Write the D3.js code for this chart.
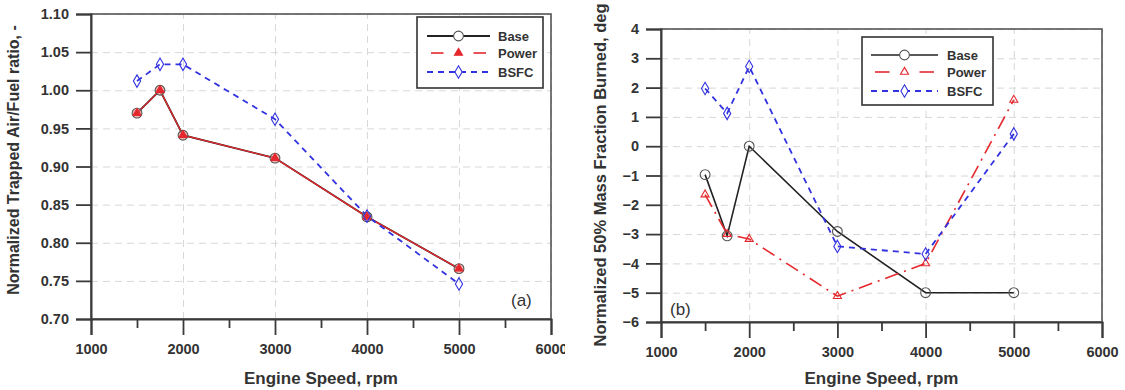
<!DOCTYPE html>
<html>
<head>
<meta charset="utf-8">
<script src="https://cdn.jsdelivr.net/npm/d3@7"></script>
<style>
  body { margin: 0; background: #fff; }
  svg { display: block; }
  text { font-family: "Liberation Sans", Arial, sans-serif; }
</style>
</head>
<body>
<svg width="1125" height="390"></svg>
<script>
// engine speed points, rpm
var speeds = [1500, 1750, 2000, 3000, 4000, 5000];

// (a) normalized trapped air/fuel ratio
var afrBase  = [0.970, 1.000, 0.941, 0.911, 0.834, 0.766];
var afrPower = [0.970, 1.000, 0.941, 0.911, 0.834, 0.766];
var afrBsfc  = [1.012, 1.034, 1.034, 0.962, 0.835, 0.746];

// (b) normalized 50% mass fraction burned, deg
var mfbBase  = [-0.97, -3.06, 0.00, -2.91, -5.00, -5.00];
var mfbPower = [-1.65, -3.00, -3.17, -5.12, -4.00, 1.58];
var mfbBsfc  = [1.97, 1.12, 2.72, -3.42, -3.68, 0.42];

var xTicks = [1000, 2000, 3000, 4000, 5000, 6000];
var xMinor = [1500, 2500, 3500, 4500, 5500];
var afrTicks = [0.70, 0.75, 0.80, 0.85, 0.90, 0.95, 1.00, 1.05, 1.10];
var mfbTicks = [-6, -5, -4, -3, -2, -1, 0, 1, 2, 3, 4];
var seriesNames = ["Base", "Power", "BSFC"];

var svg = d3.select("svg");
var defs = svg.append("defs");
defs.append("clipPath").attr("id", "clipA").append("rect")
    .attr("x", 0).attr("y", 0).attr("width", 565).attr("height", 390);
defs.append("clipPath").attr("id", "clipB").append("rect")
    .attr("x", 565).attr("y", 0).attr("width", 555).attr("height", 390);

var axisCol = "#3a3a3a", red = "#e5282e", blue = "#3232e0", black = "#222";

function panel(opt) {
    var g = svg.append("g").attr("clip-path", "url(#" + opt.clip + ")");
    var x = d3.scaleLinear().domain([1000, 6000]).range([opt.left, opt.right]);
    var y = d3.scaleLinear().domain(opt.yDomain).range([opt.bottom, opt.top]);

    // dashed grid
    g.append("g")
        .attr("transform", "translate(0," + opt.bottom + ")")
        .call(d3.axisBottom(x).tickValues(xTicks).tickSize(-(opt.bottom - opt.top)).tickFormat(""))
        .call(function (s) {
            s.select(".domain").remove();
            s.selectAll("line").attr("stroke", "#d8d8d8").attr("stroke-dasharray", "7,5");
        });
    g.append("g")
        .attr("transform", "translate(" + opt.left + ",0)")
        .call(d3.axisLeft(y).tickValues(opt.yTicks).tickSize(-(opt.right - opt.left)).tickFormat(""))
        .call(function (s) {
            s.select(".domain").remove();
            s.selectAll("line").attr("stroke", "#d8d8d8").attr("stroke-dasharray", "7,5");
        });

    // frame
    g.append("rect")
        .attr("x", opt.left).attr("y", opt.top)
        .attr("width", opt.right - opt.left).attr("height", opt.bottom - opt.top)
        .attr("fill", "none").attr("stroke", "#555").attr("stroke-width", 1.6);

    // axes
    g.append("g")
        .attr("transform", "translate(0," + opt.bottom + ")")
        .call(d3.axisBottom(x).tickValues(xTicks).tickSize(16).tickPadding(9).tickFormat(d3.format("d")));
    g.append("g")
        .attr("transform", "translate(0," + opt.bottom + ")")
        .call(d3.axisBottom(x).tickValues(xMinor).tickSize(9).tickFormat(""))
        .call(function (s) { s.select(".domain").remove(); });
    g.append("g")
        .attr("transform", "translate(" + opt.left + ",0)")
        .call(d3.axisLeft(y).tickValues(opt.yTicks).tickSize(15).tickPadding(7).tickFormat(opt.yFormat));
    g.selectAll(".domain").attr("stroke", axisCol).attr("stroke-width", 2);
    g.selectAll(".tick line").filter(function () { return !d3.select(this).attr("stroke-dasharray"); })
        .attr("stroke", axisCol).attr("stroke-width", 1.8);
    g.selectAll(".tick text")
        .attr("fill", "#333").style("font-size", "14.5px").style("font-weight", "bold");

    // axis titles
    g.append("text")
        .attr("x", (opt.left + opt.right) / 2).attr("y", 384)
        .attr("text-anchor", "middle")
        .style("font-size", "17px").style("font-weight", "bold").attr("fill", "#333")
        .text("Engine Speed, rpm");
    g.append("text")
        .attr("transform", "translate(" + opt.titleX + "," + opt.titleY + ") rotate(-90)")
        .attr("text-anchor", "middle")
        .style("font-size", opt.titleSize).style("font-weight", "bold").attr("fill", "#333")
        .text(opt.yTitle);

    // panel tag
    g.append("text")
        .attr("x", opt.tagX).attr("y", opt.tagY)
        .style("font-size", "17px").attr("fill", "#333")
        .text(opt.tag);

    var line = d3.line().x(function (d) { return x(d[0]); }).y(function (d) { return y(d[1]); });
    var styles = opt.styles;

    opt.series.forEach(function (vals, i) {
        var st = styles[i];
        var pts = speeds.map(function (s, k) { return [s, vals[k]]; });
        g.append("path").datum(pts)
            .attr("d", line)
            .attr("fill", "none")
            .attr("stroke", st.color)
            .attr("stroke-width", st.width)
            .attr("stroke-dasharray", st.dash);
    });
    opt.series.forEach(function (vals, i) {
        var st = styles[i];
        g.selectAll(null).data(speeds.map(function (s, k) { return [s, vals[k]]; }))
            .enter().append("path")
            .attr("transform", function (d) { return "translate(" + x(d[0]) + "," + y(d[1]) + ")"; })
            .attr("d", d3.symbol().type(st.symbol).size(st.size))
            .attr("fill", st.fill).attr("stroke", st.mark).attr("stroke-width", 1.1);
    });

    // legend
    var lg = g.append("g");
    lg.append("rect")
        .attr("x", opt.legend.x).attr("y", opt.legend.y)
        .attr("width", opt.legend.w).attr("height", opt.legend.h)
        .attr("fill", "#fff").attr("stroke", "#333").attr("stroke-width", 1.6);
    seriesNames.forEach(function (name, i) {
        var st = styles[i];
        var ly = opt.legend.y + opt.legend.rowY[i];
        var x0 = opt.legend.x + opt.legend.lx0, x1 = opt.legend.x + opt.legend.lx1, xm = (x0 + x1) / 2;
        if (i === 1) {
            [[x0, xm - 11], [xm + 11, x1]].forEach(function (seg) {
                lg.append("line").attr("x1", seg[0] + 4).attr("x2", seg[1] - 4).attr("y1", ly).attr("y2", ly)
                    .attr("stroke", st.color).attr("stroke-width", 1.6);
            });
        } else {
            lg.append("line").attr("x1", x0).attr("x2", x1).attr("y1", ly).attr("y2", ly)
                .attr("stroke", st.color).attr("stroke-width", st.width)
                .attr("stroke-dasharray", st.dash);
        }
        lg.append("path")
            .attr("transform", "translate(" + xm + "," + ly + ")")
            .attr("d", d3.symbol().type(st.symbol).size(st.size))
            .attr("fill", i === 1 ? st.legendFill : "#fff").attr("stroke", st.mark).attr("stroke-width", 1.1);
        lg.append("text")
            .attr("x", opt.legend.x + opt.legend.tx).attr("y", ly + 5)
            .style("font-size", "13px").style("font-weight", "bold").attr("fill", "#333")
            .text(name);
    });
}

panel({
    clip: "clipA",
    left: 91, right: 551, top: 14, bottom: 319,
    yDomain: [0.70, 1.10], yTicks: afrTicks, yFormat: d3.format(".2f"),
    yTitle: "Normalized Trapped Air/Fuel ratio, -", titleX: 19, titleY: 160, titleSize: "16px",
    tag: "(a)", tagX: 511, tagY: 306,
    series: [afrBase, afrPower, afrBsfc],
    styles: [
        { color: black, width: 1.8, dash: null, symbol: d3.symbolCircle, size: 75, fill: "rgba(235,120,120,0.55)", mark: "#555" },
        { color: red, width: 1.3, dash: null, symbol: d3.symbolTriangle, size: 28, fill: red, mark: red, legendFill: red },
        { color: blue, width: 1.8, dash: "6,5", symbol: d3.symbolDiamond, size: 45, fill: "none", mark: blue }
    ],
    legend: { x: 417, y: 17, w: 126, h: 71, rowY: [19, 36, 55], lx0: 10, lx1: 73, tx: 81 }
});

panel({
    clip: "clipB",
    left: 661, right: 1102, top: 29, bottom: 322,
    yDomain: [-6, 4], yTicks: mfbTicks, yFormat: d3.format("d"),
    yTitle: "Normalized 50% Mass Fraction Burned, deg", titleX: 606, titleY: 175, titleSize: "16.5px",
    tag: "(b)", tagX: 670, tagY: 315,
    series: [mfbBase, mfbPower, mfbBsfc],
    styles: [
        { color: black, width: 1.6, dash: null, symbol: d3.symbolCircle, size: 75, fill: "none", mark: "#555" },
        { color: red, width: 1.6, dash: "14,6,2,6", symbol: d3.symbolTriangle, size: 28, fill: "none", mark: red, legendFill: "none" },
        { color: blue, width: 1.8, dash: "6,5", symbol: d3.symbolDiamond, size: 45, fill: "none", mark: blue }
    ],
    legend: { x: 862, y: 37, w: 131, h: 68, rowY: [18, 35, 54], lx0: 9, lx1: 76, tx: 85 }
});
</script>
</body>
</html>
